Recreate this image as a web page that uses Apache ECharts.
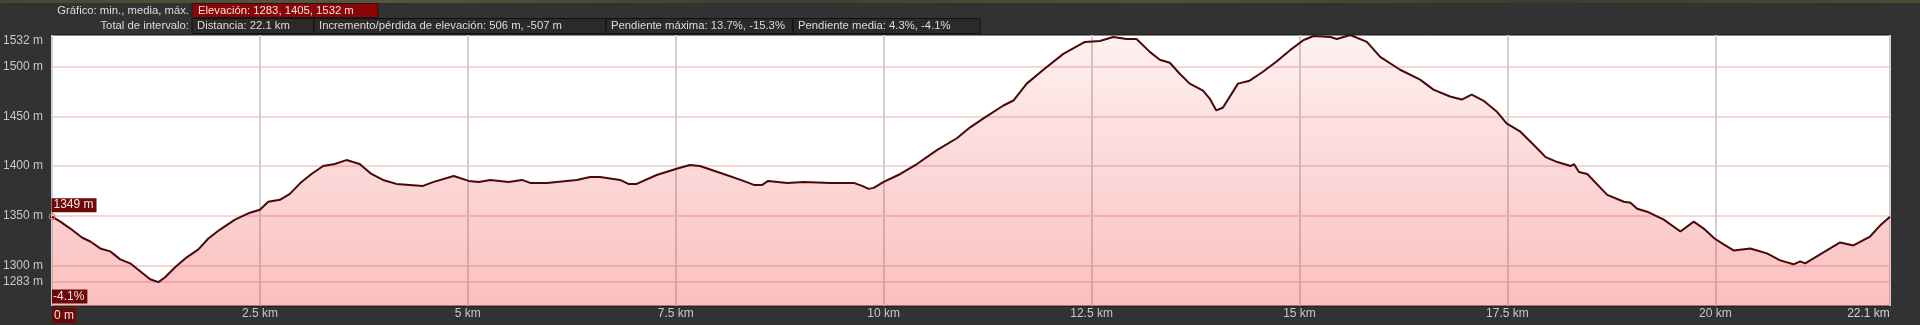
<!DOCTYPE html>
<html><head><meta charset="utf-8">
<script src="https://cdn.jsdelivr.net/npm/echarts@6/dist/echarts.min.js"></script>
<style>html,body{margin:0;padding:0;background:#323232;overflow:hidden}#c{width:1920px;height:325px}</style>
</head><body><div id="c"></div><script>
// ---- data ----
const distanceKm = [0.00,0.10,0.22,0.36,0.46,0.58,0.70,0.82,0.94,1.06,1.18,1.28,1.36,1.48,1.62,1.76,1.88,2.02,2.20,2.38,2.50,2.60,2.74,2.86,3.00,3.12,3.26,3.40,3.54,3.70,3.84,3.98,4.14,4.30,4.46,4.59,4.83,5.01,5.13,5.27,5.49,5.65,5.75,5.95,6.31,6.47,6.59,6.83,6.93,7.03,7.27,7.50,7.67,7.79,8.04,8.28,8.44,8.54,8.61,8.84,9.04,9.36,9.64,9.74,9.82,9.88,10.00,10.20,10.40,10.64,10.88,11.04,11.20,11.44,11.56,11.72,11.92,12.16,12.42,12.60,12.76,12.92,13.04,13.20,13.32,13.44,13.56,13.68,13.84,13.92,14.00,14.08,14.26,14.40,14.56,14.72,14.89,15.05,15.17,15.37,15.45,15.61,15.81,15.97,16.21,16.45,16.61,16.81,16.95,17.07,17.21,17.37,17.49,17.65,17.82,17.96,18.10,18.26,18.30,18.36,18.46,18.70,18.90,18.98,19.06,19.18,19.38,19.58,19.74,19.86,19.99,20.10,20.22,20.42,20.62,20.78,20.94,21.02,21.08,21.26,21.50,21.66,21.86,21.98,22.10];
const elevationM = [1349,1344,1337,1328,1324,1317,1314,1306,1302,1294,1286,1283,1288,1298,1308,1316,1327,1336,1346,1353,1356,1364,1366,1372,1384,1392,1400,1402,1406,1402,1392,1386,1382,1381,1380,1384,1390,1385,1384,1386,1384,1386,1383,1383,1386,1389,1389,1386,1382,1382,1391,1397,1401,1400,1393,1386,1381,1381,1385,1383,1384,1383,1383,1380,1377,1378,1384,1392,1402,1416,1428,1439,1448,1461,1466,1483,1497,1513,1525,1526,1530,1528,1528,1515,1507,1504,1493,1483,1476,1468,1456,1459,1483,1486,1495,1505,1517,1527,1531,1530,1528,1532,1525,1510,1497,1487,1477,1470,1467,1472,1466,1455,1443,1435,1421,1409,1404,1400,1402,1394,1392,1371,1364,1363,1357,1354,1346,1334,1344,1337,1327,1321,1315,1317,1312,1305,1301,1304,1302,1311,1323,1320,1329,1340,1349];
const yTickValues = [1283, 1300, 1350, 1400, 1450, 1500];
const yTopValue = 1532;
const yBottomValue = 1259;
const xTickValues = [0, 2.5, 5, 7.5, 10, 12.5, 15, 17.5, 20, 22.1];
const xMax = 22.1;
const headerRow1Label = 'Gráfico: min., media, máx.';
const headerRow1Box = 'Elevación: 1283, 1405, 1532 m';
const headerRow2Label = 'Total de intervalo:';
const headerRow2Boxes = ['Distancia: 22.1 km', 'Incremento/pérdida de elevación: 506 m, -507 m', 'Pendiente máxima: 13.7%, -15.3%', 'Pendiente media: 4.3%, -4.1%'];
const startLabel = '1349 m';
const slopeLabel = '-4.1%';

// ---- layout / style ----
const FS = 12;
const FF = '"Liberation Sans", Arial, sans-serif';
const HFONT = '11.3px ' + FF;
const boxEdges = [192, 314, 606, 793, 980];

const graphics = [
  {type:'rect', shape:{x:0,y:0,width:1920,height:3}, style:{fill:new echarts.graphic.LinearGradient(0,0,1,0,[
    {offset:0,color:'#4a4636'},{offset:0.2,color:'#5b5440'},{offset:0.4,color:'#3d3f33'},{offset:0.6,color:'#575039'},{offset:0.8,color:'#3c3d31'},{offset:1,color:'#4e4a38'}])}, silent:true},
  {type:'text', x:189, y:10.5, style:{text:headerRow1Label, fill:'#dcdcdc', font:HFONT, align:'right', verticalAlign:'middle'}},
  {type:'rect', shape:{x:192,y:3.5,width:186,height:14}, style:{fill:'#8a0505', stroke:'#1a1a1a', lineWidth:1}},
  {type:'text', x:198, y:10.5, style:{text:headerRow1Box, fill:'#f4e2e2', font:HFONT, align:'left', verticalAlign:'middle'}},
  {type:'text', x:189, y:26, style:{text:headerRow2Label, fill:'#dcdcdc', font:HFONT, align:'right', verticalAlign:'middle'}}
];
headerRow2Boxes.forEach((t, i) => {
  graphics.push({type:'rect', shape:{x:boxEdges[i], y:18.5, width:boxEdges[i+1]-boxEdges[i], height:15}, style:{fill:'#2a2a2a', stroke:'#111', lineWidth:1}});
  graphics.push({type:'text', x:boxEdges[i]+5, y:26, style:{text:t, fill:'#dcdcdc', font:HFONT, align:'left', verticalAlign:'middle'}});
});

const chart = echarts.init(document.getElementById('c'), null, {renderer:'canvas'});
chart.setOption({
  animation:false,
  backgroundColor:'#323232',
  grid:{left:52, right:30, top:35, bottom:19, show:true, backgroundColor:'#ffffff', borderColor:'#151515', borderWidth:1},
  xAxis:{
    type:'value', min:0, max:xMax,
    axisLine:{show:false}, axisTick:{show:false, customValues:xTickValues},
    splitLine:{show:true, lineStyle:{color:'#cfcfcf', width:2}},
    axisLabel:{
      customValues:xTickValues, margin:2, color:'#c8c8c8', fontFamily:FF, fontSize:FS,
      formatter:function(v){
        if (v === 0) return '{sp0|}{first|0 m}';
        if (Math.abs(v - xMax) < 1e-6) return '{last|' + v + ' km}{sp1|}';
        return v + ' km';
      },
      rich:{
        first:{backgroundColor:'#6b0808', color:'#f4e4e4', padding:[2,2,1,2], fontSize:FS, fontFamily:FF},
        sp0:{width:24},
        last:{color:'#d4d4d4', fontSize:FS, fontFamily:FF},
        sp1:{width:43}
      }
    }
  },
  yAxis:[{
    type:'value', min:yBottomValue, max:yTopValue,
    axisLine:{show:false}, axisTick:{show:false, customValues:yTickValues},
    splitLine:{show:true, lineStyle:{color:'#f3d6d6', width:2}},
    axisLabel:{customValues:yTickValues, align:'left', margin:49, color:'#c8c8c8', fontFamily:FF, fontSize:FS, formatter:v=>v+' m'}
  },{
    type:'value', min:yBottomValue, max:yTopValue, position:'left',
    axisLine:{show:false}, axisTick:{show:false, customValues:[yTopValue]}, splitLine:{show:false},
    axisLabel:{customValues:[yTopValue], align:'left', verticalAlign:'top', margin:49, color:'#c8c8c8', fontFamily:FF, fontSize:FS, formatter:v=>v+' m'}
  }],
  graphic:graphics,
  series:[{
    type:'line', yAxisIndex:0,
    data:distanceKm.map((d,i)=>[d, elevationM[i]]),
    symbol:'none', showSymbol:false,
    lineStyle:{color:'#4a0808', width:2},
    areaStyle:{origin:'start', color:new echarts.graphic.LinearGradient(0,0,0,1,[
      {offset:0,color:'rgba(240,60,60,0.10)'},{offset:1,color:'rgba(240,60,60,0.47)'}])},
    markPoint:{
      silent:true,
      data:[
        {coord:[distanceKm[0], elevationM[0]], symbol:'circle', symbolSize:6,
          itemStyle:{color:'rgba(0,0,0,0)', borderColor:'#e06060', borderWidth:1},
          label:{show:true, formatter:startLabel, position:[3,-15], align:'left', verticalAlign:'top',
            backgroundColor:'#6b0808', color:'#f4e4e4', padding:[1,3,1,2], fontSize:FS, fontFamily:FF}},
        {coord:[distanceKm[0], yBottomValue], symbol:'rect', symbolSize:1,
          itemStyle:{color:'rgba(0,0,0,0)'},
          label:{show:true, formatter:slopeLabel, position:[0.5,-16], align:'left', verticalAlign:'top',
            backgroundColor:'#6b0808', color:'#f4e4e4', padding:[1,3,1,1], fontSize:FS, fontFamily:FF}}
      ]
    }
  }]
});
</script></body></html>
